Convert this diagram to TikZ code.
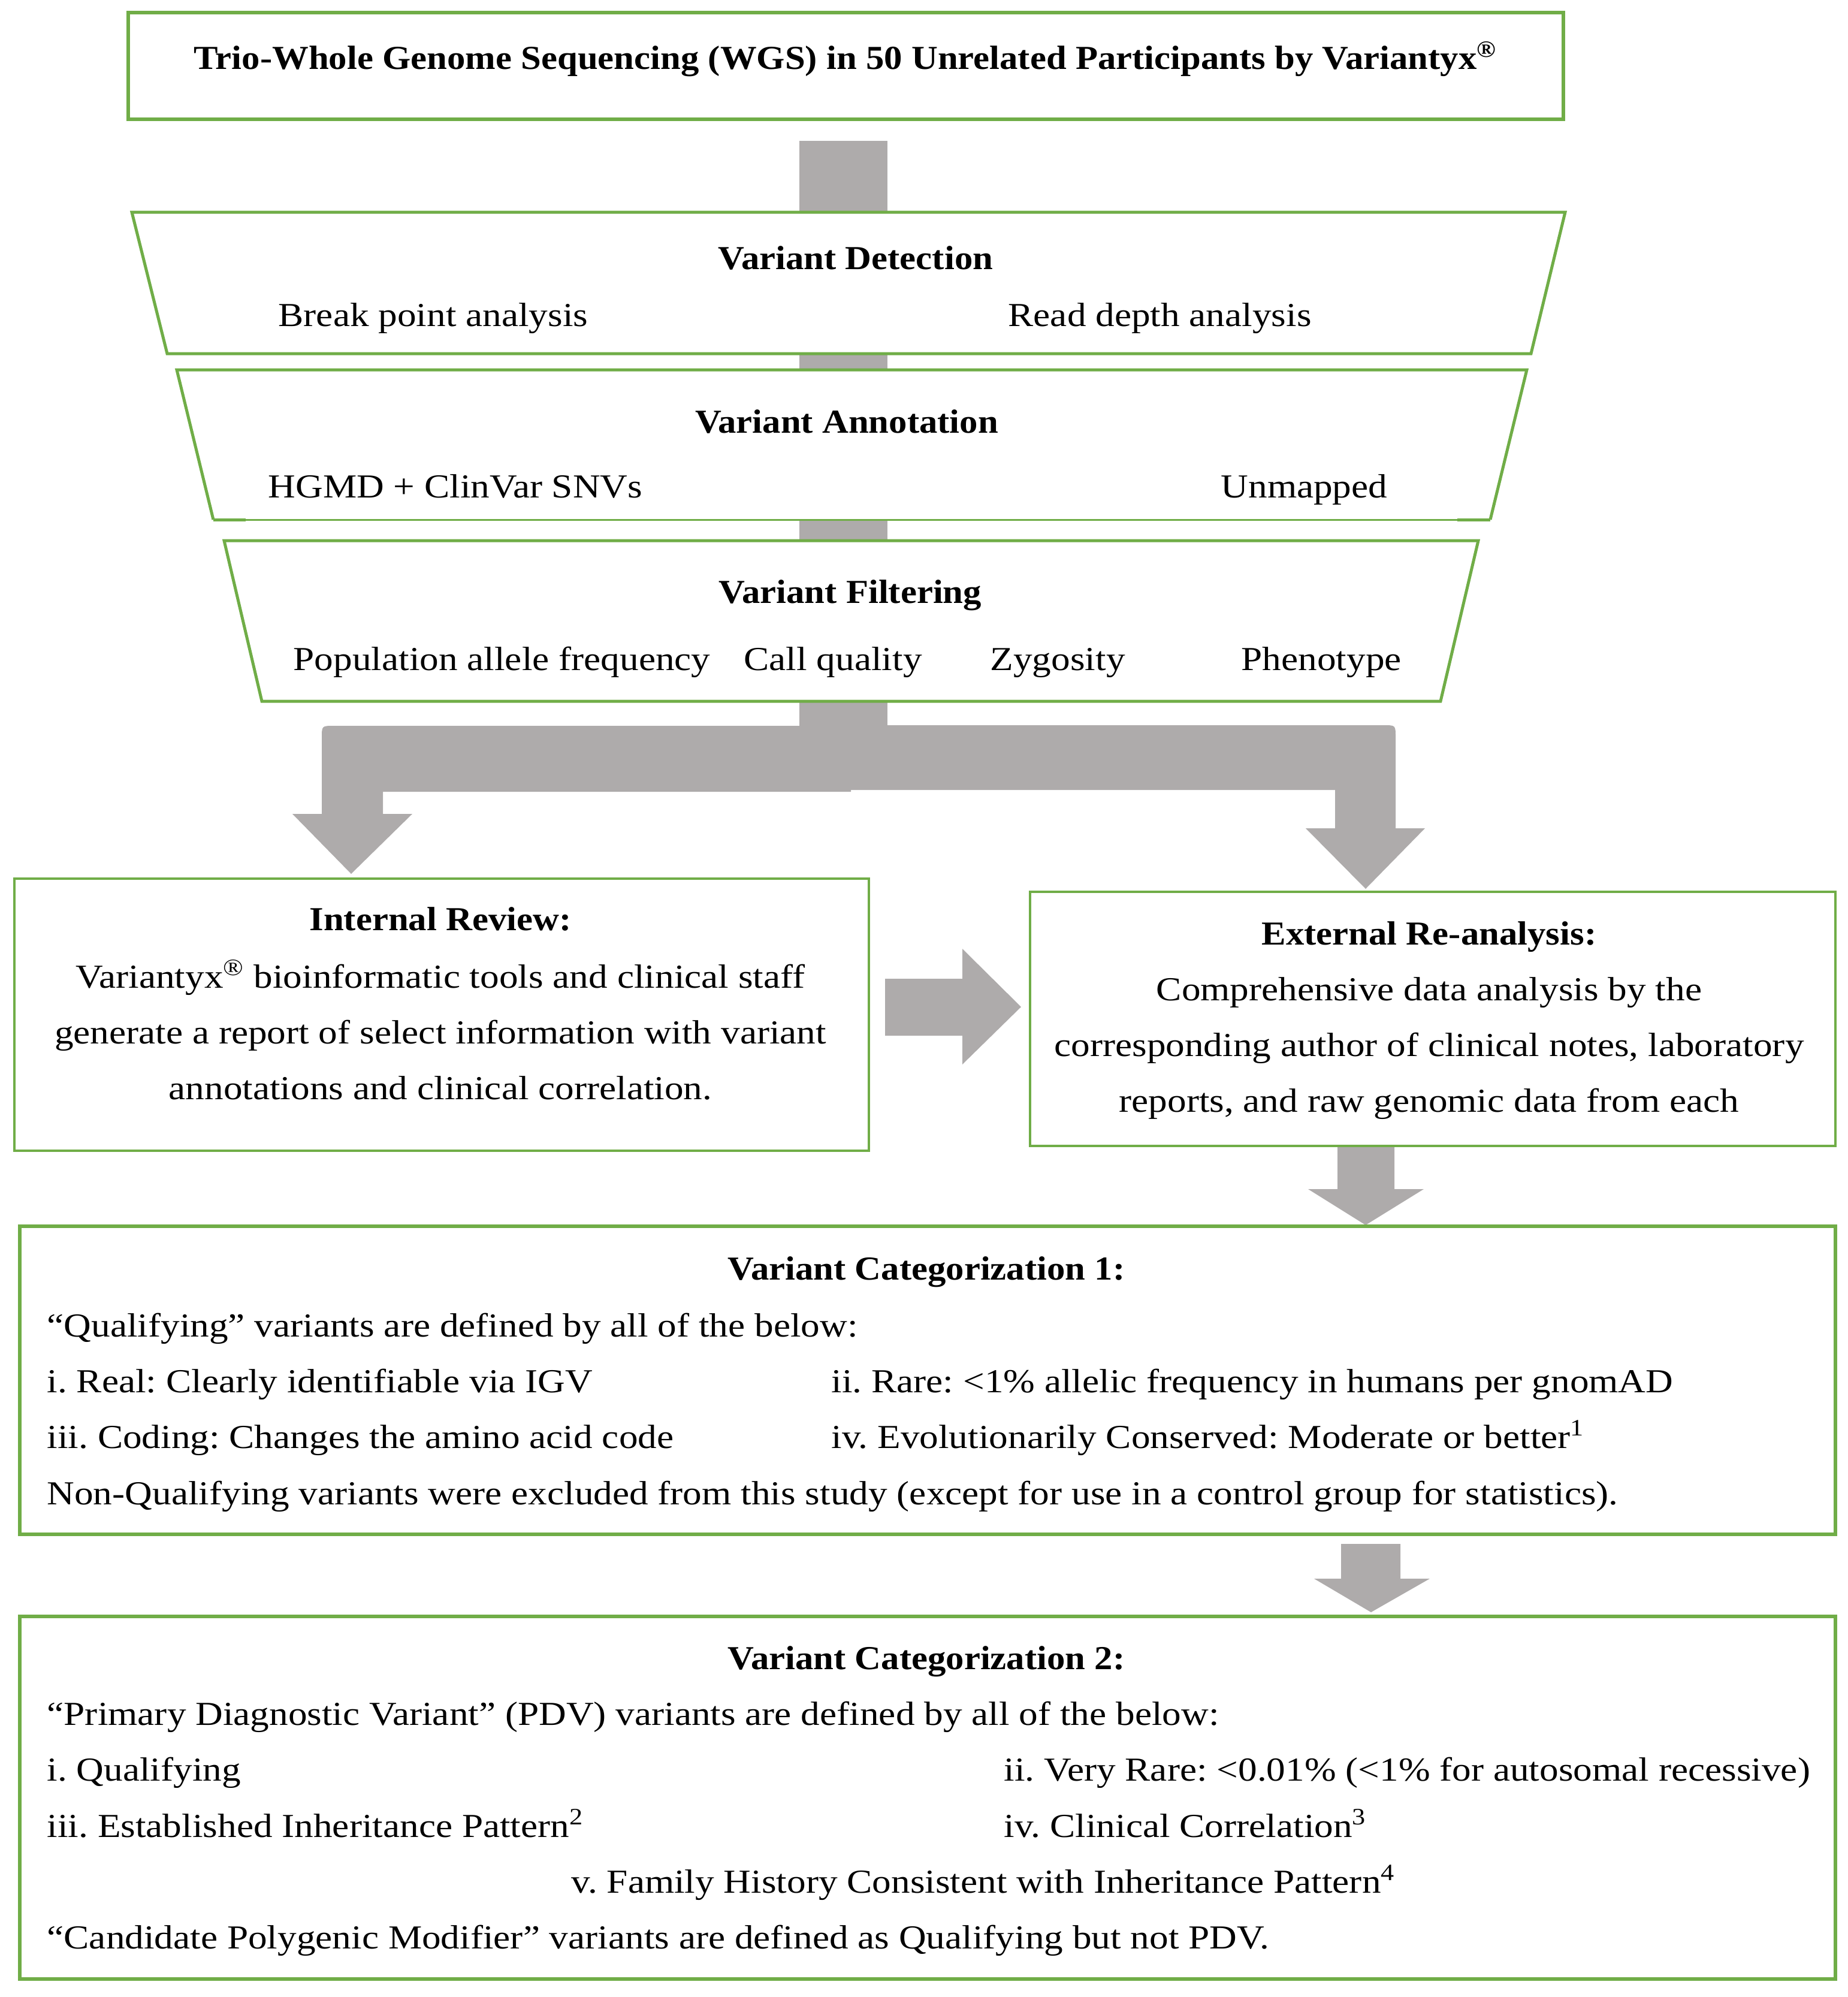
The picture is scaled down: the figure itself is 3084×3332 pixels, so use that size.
\documentclass[tikz,border=0pt]{standalone}
\usepackage{fontspec}
\setmainfont{Liberation Serif}[FakeStretch=1.13,BoldFeatures={FakeStretch=1.085}]
\definecolor{grn}{HTML}{70AD47}
\definecolor{gry}{HTML}{AEABAB}
\newcommand{\fs}{\fontsize{16.8}{20}\selectfont\frenchspacing}
\newcommand{\rg}{\textsuperscript{®}}
\begin{document}
\begin{tikzpicture}[x=0.3pt,y=-0.3pt,
  gbox/.style={draw=grn,line width=1.8pt,fill=white},
  tbox/.style={draw=grn,line width=1.2pt,fill=white},
  txt/.style={font=\fs,inner sep=0pt,anchor=mid,yshift=-4pt},
  txtl/.style={font=\fs,inner sep=0pt,anchor=mid west,yshift=-4pt},
  ttl/.style={font=\fs\bfseries,inner sep=0pt,anchor=mid,yshift=-4pt},
  blk/.style={fill=gry,draw=none}]
\useasboundingbox (0,0) rectangle (3084,3332);

% central gray bar behind trapezoids
\fill[blk] (1334,235) rectangle (1481,1260);

% top box
\draw[gbox] (214,21) rectangle (2609,199);
\node[ttl] (wgs) at (1411,95) {Trio-Whole Genome Sequencing (WGS) in 50 Unrelated Participants by Variantyx\rg};

% trapezoid 1
\coordinate (d1) at (220,354); \coordinate (d2) at (2612,354);
\coordinate (d3) at (2555,590); \coordinate (d4) at (279,590);
\draw[gbox,line width=1.5pt] (d1) -- (d2) -- (d3) -- (d4) -- cycle;
\node[ttl] (det) at (1428,428) {Variant Detection};
\node[txtl] (bpa) at (464,523) {Break point analysis};
\node[txtl] (rda) at (1682,523) {Read depth analysis};

% trapezoid 2
\coordinate (a1) at (295,617); \coordinate (a2) at (2548,617);
\coordinate (a3) at (2487,867); \coordinate (a4) at (356,867);
\fill[white] (a1) -- (a2) -- (a3) -- (a4) -- cycle;
\draw[draw=grn,line width=1.5pt,line join=miter] (a4) -- (a1) -- (a2) -- (a3);
\draw[draw=grn,line width=0.9pt] (a3) -- (a4);
\draw[draw=grn,line width=1.5pt] (a4) -- (410,867);
\draw[draw=grn,line width=1.5pt] (2432,867) -- (a3);
\node[ttl] (ann) at (1413,701) {Variant Annotation};
\node[txtl] (hgmd) at (447,809) {HGMD + ClinVar SNVs};
\node[txtl] (unm) at (2037,809) {Unmapped};

% trapezoid 3
\coordinate (f1) at (374,902); \coordinate (f2) at (2467,902);
\coordinate (f3) at (2404,1170); \coordinate (f4) at (437,1170);
\draw[gbox,line width=1.5pt] (f1) -- (f2) -- (f3) -- (f4) -- cycle;
\node[ttl] (fil) at (1419,985) {Variant Filtering};
\node[txtl] (paf) at (489,1097) {Population allele frequency};
\node[txtl] (cq) at (1241,1097) {Call quality};
\node[txtl] (zyg) at (1652,1097) {Zygosity};
\node[txtl] (phe) at (2071,1097) {Phenotype};

% split bent arrows
\fill[blk] (1420,1211) -- (557,1211) .. controls (537,1211) .. (537,1231)
  -- (537,1358) -- (488,1358) -- (586,1458) -- (688,1358) -- (639,1358)
  -- (639,1321) -- (1420,1321) -- cycle;
\fill[blk] (1340,1210) -- (2309,1210) .. controls (2329,1210) .. (2329,1230)
  -- (2329,1382) -- (2378,1382) -- (2279,1483) -- (2179,1382) -- (2228,1382)
  -- (2228,1318) -- (1340,1318) -- cycle;

% internal review
\draw[tbox] (24,1466) rectangle (1450,1920);
\node[ttl] (irt) at (735,1531) {Internal Review:};
\node[txt] (ir1) at (735,1627) {Variantyx\rg{} bioinformatic tools and clinical staff};
\node[txt] (ir2) at (735,1720) {generate a report of select information with variant};
\node[txt] (ir3) at (735,1813) {annotations and clinical correlation.};

% external re-analysis
\draw[tbox] (1719,1488) rectangle (3063,1912);
\node[ttl] (ert) at (2385,1555) {External Re-analysis:};
\node[txt] (er1) at (2385,1648) {Comprehensive data analysis by the};
\node[txt] (er2) at (2385,1741) {corresponding author of clinical notes, laboratory};
\node[txt] (er3) at (2385,1834) {reports, and raw genomic data from each};

% horizontal arrow
\fill[blk] (1477,1633) -- (1606,1633) -- (1606,1583) -- (1704,1680)
  -- (1606,1776) -- (1606,1728) -- (1477,1728) -- cycle;

% arrow below external
\fill[blk] (2232,1914) -- (2327,1914) -- (2327,1984) -- (2376,1984)
  -- (2279,2044) -- (2183,1984) -- (2232,1984) -- cycle;

% categorization 1
\draw[gbox] (33,2046) rectangle (3063,2560);
\node[ttl] (c1t) at (1546,2114) {Variant Categorization 1:};
\node[txtl] (c1a) at (78,2209) {“Qualifying” variants are defined by all of the below:};
\node[txtl] (c1b) at (78,2302) {i. Real: Clearly identifiable via IGV};
\node[txtl] (c1c) at (1387,2302) {ii. Rare: <1\% allelic frequency in humans per gnomAD};
\node[txtl] (c1d) at (78,2395) {iii. Coding: Changes the amino acid code};
\node[txtl] (c1e) at (1387,2395) {iv. Evolutionarily Conserved: Moderate or better\textsuperscript{1}};
\node[txtl] (c1f) at (78,2489) {Non-Qualifying variants were excluded from this study (except for use in a control group for statistics).};

% arrow below cat 1
\fill[blk] (2238,2576) -- (2337,2576) -- (2337,2634) -- (2386,2634)
  -- (2288,2690) -- (2193,2634) -- (2238,2634) -- cycle;

% categorization 2
\draw[gbox] (33,2697) rectangle (3063,3302);
\node[ttl] (c2t) at (1546,2764) {Variant Categorization 2:};
\node[txtl] (c2a) at (78,2857) {“Primary Diagnostic Variant” (PDV) variants are defined by all of the below:};
\node[txtl] (c2b) at (78,2950) {i. Qualifying};
\node[txtl] (c2c) at (1675,2950) {ii. Very Rare: <0.01\% (<1\% for autosomal recessive)};
\node[txtl] (c2d) at (78,3044) {iii. Established Inheritance Pattern\textsuperscript{2}};
\node[txtl] (c2e) at (1675,3044) {iv. Clinical Correlation\textsuperscript{3}};
\node[txtl] (c2f) at (953,3137) {v. Family History Consistent with Inheritance Pattern\textsuperscript{4}};
\node[txtl] (c2g) at (78,3230) {“Candidate Polygenic Modifier” variants are defined as Qualifying but not PDV.};
\end{tikzpicture}
\end{document}
